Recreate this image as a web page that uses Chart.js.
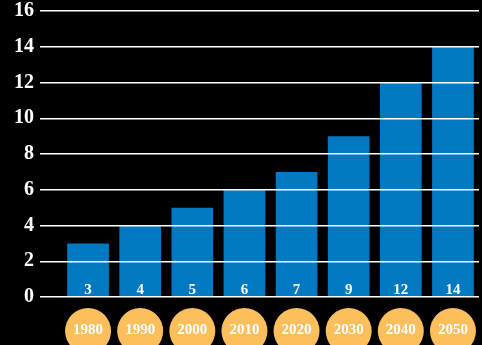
<!DOCTYPE html>
<html>
<head>
<meta charset="utf-8">
<script src="https://cdn.jsdelivr.net/npm/chart.js@4"></script>
<style>
  html, body { margin: 0; padding: 0; background: #000; }
  #wrap { width: 482px; height: 345px; }
</style>
</head>
<body>
<div id="wrap"><canvas id="chart"></canvas></div>
<script>
const years = ['1980', '1990', '2000', '2010', '2020', '2030', '2040', '2050']
const values = [3, 4, 5, 6, 7, 9, 12, 14]
const yTicks = [0, 2, 4, 6, 8, 10, 12, 14, 16]

const serif = '"Liberation Serif", "DejaVu Serif", serif'

// value labels at the foot of each bar, year badges under the axis
const barDecor = {
  id: 'barDecor',
  afterDatasetsDraw(chart) {
    const ctx = chart.ctx
    const x = chart.scales.x
    const y = chart.scales.y
    const base = y.getPixelForValue(0)
    ctx.save()
    ctx.textAlign = 'center'
    ctx.textBaseline = 'middle'
    values.forEach((v, i) => {
      const px = x.getPixelForValue(i)
      ctx.fillStyle = '#ffffff'
      ctx.font = 'bold 15px ' + serif
      ctx.fillText(String(v), px, base - 7)
    })
    years.forEach((yr, i) => {
      const px = x.getPixelForValue(i)
      ctx.beginPath()
      ctx.arc(px, base + 34, 23, 0, Math.PI * 2)
      ctx.fillStyle = '#FDBE5C'
      ctx.fill()
      ctx.fillStyle = '#ffffff'
      ctx.font = 'bold 15px ' + serif
      ctx.fillText(yr, px, base + 33)
    })
    ctx.restore()
  }
}

const data = {
  labels: years,
  datasets: [{
    data: values,
    backgroundColor: '#0078C2',
    borderWidth: 0,
    barPercentage: 0.8,
    categoryPercentage: 1.0
  }]
}

const config = {
  type: 'bar',
  data: data,
  options: {
    responsive: true,
    maintainAspectRatio: false,
    animation: false,
    layout: { padding: { top: 11, right: 3, bottom: 48, left: 8 } },
    plugins: {
      legend: { display: false },
      tooltip: { enabled: false }
    },
    scales: {
      x: {
        ticks: { display: false },
        grid: { display: false, drawTicks: false },
        border: { display: false }
      },
      y: {
        min: 0,
        max: 16,
        afterBuildTicks(scale) {
          scale.ticks = yTicks.map(v => ({ value: v }))
        },
        afterFit(scale) {
          scale.paddingTop = 0
          scale.paddingBottom = 0
        },
        ticks: {
          color: '#ffffff',
          padding: 6,
          font: { family: serif, size: 20, weight: 'bold' }
        },
        grid: {
          color: '#ffffff',
          lineWidth: 1.5,
          tickLength: 22,
          tickColor: '#ffffff',
          z: 1
        },
        border: { display: false }
      }
    }
  },
  plugins: [barDecor]
}

Chart.defaults.color = '#ffffff'
let ctx = document.getElementById('chart').getContext('2d')
new Chart(ctx, config)
</script>
</body>
</html>
